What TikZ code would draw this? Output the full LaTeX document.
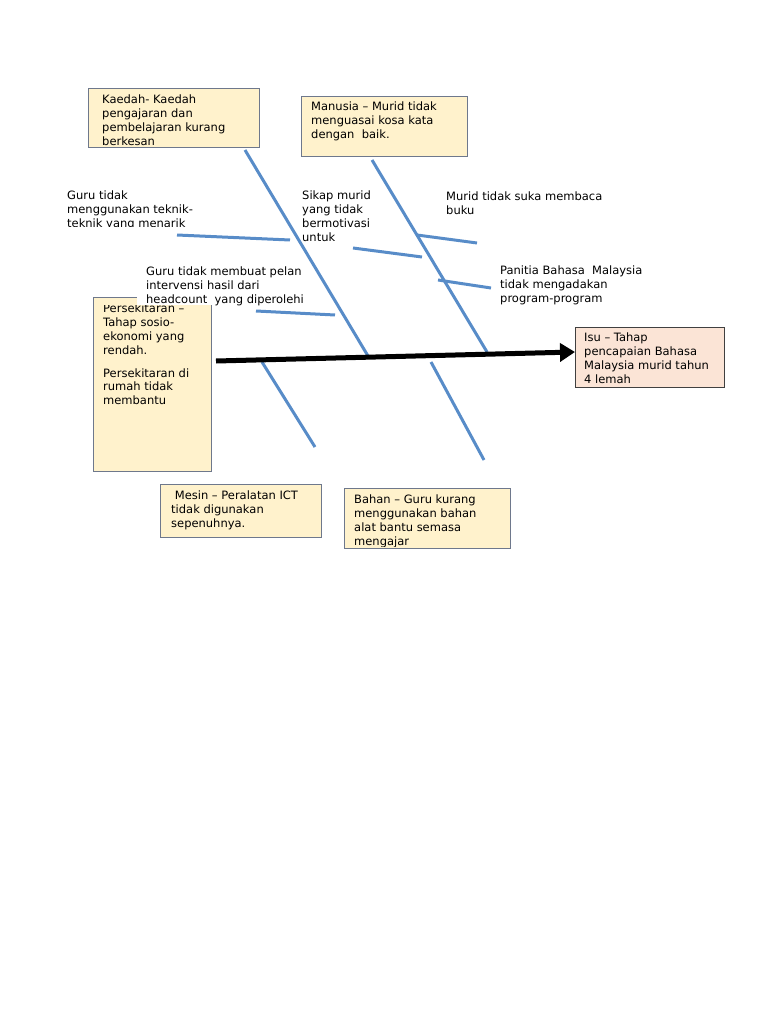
\documentclass[tikz,border=0pt]{standalone}
\usepackage{fontspec}
\setmainfont{DejaVu Sans}
\usetikzlibrary{arrows.meta}
\definecolor{boxyellow}{RGB}{255,242,204}
\definecolor{boxpeach}{RGB}{251,228,214}
\definecolor{boxline}{RGB}{110,120,140}
\definecolor{boneblue}{RGB}{88,140,200}

\begin{document}
\begin{tikzpicture}[x=1pt,y=-1pt,
    every node/.style={font=\fontsize{11.5}{13.8}\selectfont, inner sep=0pt, anchor=north west, align=left},
    cause/.style={draw=boxline, line width=1.2pt, fill=boxyellow},
    issue/.style={draw=black!75, line width=1.2pt, fill=boxpeach},
    bone/.style={draw=boneblue, line width=3pt},
    spine/.style={line width=5pt, -{Triangle[length=15pt,width=18pt]}}]

    \useasboundingbox (0,0) rectangle (768,1024);

    % boxes
    \node [cause, minimum width=171, minimum height=59] (kaedah) at (88,88) {};
    \node [cause, minimum width=166, minimum height=60] (manusia) at (301,96) {};
    \node [cause, minimum width=118, minimum height=174] (persekitaran) at (93,297) {};
    \node [issue, minimum width=149, minimum height=60] (isu) at (575,327) {};
    \node [cause, minimum width=161, minimum height=53] (mesin) at (160,484) {};
    \node [cause, minimum width=166, minimum height=60] (bahan) at (344,488) {};

    % box texts
    \node (kaedahtext) at (102,95) {Kaedah- Kaedah\\pengajaran dan\\pembelajaran kurang\\berkesan};
    \node (manusiatext) at (311,102) {Manusia -- Murid tidak\\menguasai kosa kata\\dengan\ \ baik.};
    \node (isutext) at (584,333) {Isu -- Tahap\\pencapaian Bahasa\\Malaysia murid tahun\\4 lemah};
    \node (mesintext) at (171,491) {\ Mesin -- Peralatan ICT\\tidak digunakan\\sepenuhnya.};
    \begin{scope}
        \clip (345,489) rectangle (509,546);
        \node (bahantext) at (354,495) {Bahan -- Guru kurang\\menggunakan bahan\\alat bantu semasa\\mengajar};
    \end{scope}

    % free texts
    \begin{scope}
        \clip (60,180) rectangle (240,227);
        \node (guruteknik) at (67,191) {Guru tidak\\menggunakan teknik-\\teknik yang menarik};
    \end{scope}
    \node (sikap) at (302,191) {Sikap murid\\yang tidak\\bermotivasi\\untuk};
    \node (membaca) at (446,192) {Murid tidak suka membaca\\buku};
    \node (panitia) at (500,266) {Panitia Bahasa\ \ Malaysia\\tidak mengadakan\\program-program};
    \begin{scope}
        \clip (137,258) rectangle (312,305);
        \fill [white] (137,258) rectangle (312,305);
        \node (intervensi) at (146,267) {Guru tidak membuat pelan\\intervensi hasil dari\\headcount\ \ yang diperolehi};
    \end{scope}
    \begin{scope}
        \clip (94,305) rectangle (210,470);
        \node (persekitarantext) at (103,304) {Persekitaran --\\Tahap sosio-\\ekonomi yang\\rendah.\\[9pt]Persekitaran di\\rumah tidak\\membantu};
    \end{scope}

    % bones
    \coordinate (k1) at (245,150);
    \coordinate (k2) at (368,356);
    \coordinate (m1) at (372,160);
    \coordinate (m2) at (487,352);
    \coordinate (p1) at (262,362);
    \coordinate (p2) at (315,447);
    \coordinate (b1) at (431,362);
    \coordinate (b2) at (484,460);
    \coordinate (g1) at (177,235);
    \coordinate (g2) at (290,240);
    \coordinate (h1) at (256,311);
    \coordinate (h2) at (335,315);
    \coordinate (s1) at (353,248);
    \coordinate (s2) at (422,257);
    \coordinate (r1) at (417,235);
    \coordinate (r2) at (477,243);
    \coordinate (t1) at (438,280);
    \coordinate (t2) at (491,288);
    \draw [bone] (k1) -- (k2);
    \draw [bone] (m1) -- (m2);
    \draw [bone] (p1) -- (p2);
    \draw [bone] (b1) -- (b2);
    \draw [bone] (g1) -- (g2);
    \draw [bone] (h1) -- (h2);
    \draw [bone] (s1) -- (s2);
    \draw [bone] (r1) -- (r2);
    \draw [bone] (t1) -- (t2);

    % spine
    \coordinate (tail) at (216,361);
    \coordinate (tip) at (575,352);
    \draw [spine] (tail) -- (tip);
\end{tikzpicture}
\end{document}
